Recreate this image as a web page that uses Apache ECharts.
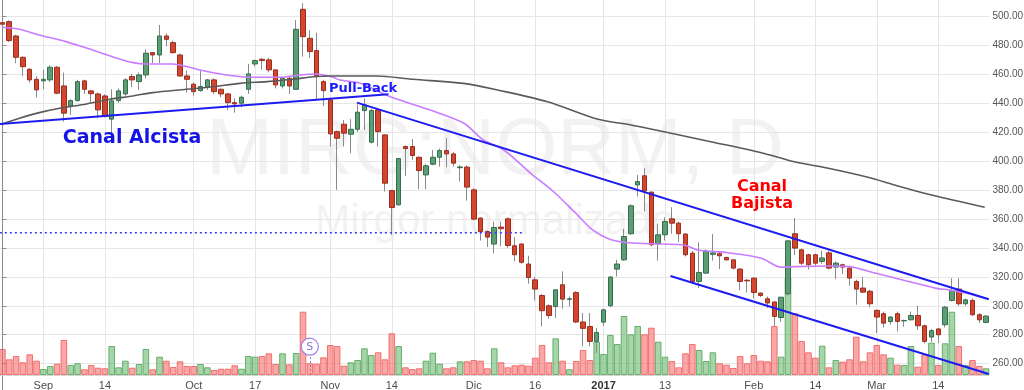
<!DOCTYPE html>
<html><head><meta charset="utf-8">
<script src="https://cdn.jsdelivr.net/npm/echarts@6/dist/echarts.min.js"></script>
<style>html,body{margin:0;padding:0;background:#fff}#c{width:1024px;height:390px}</style>
</head><body><div id="c"></div>
<script>
const dates = ['2016-08-24','2016-08-25','2016-08-26','2016-08-29','2016-08-30','2016-08-31',
'2016-09-01','2016-09-02','2016-09-05','2016-09-06','2016-09-07','2016-09-08','2016-09-09','2016-09-12','2016-09-13','2016-09-14','2016-09-15','2016-09-16','2016-09-19','2016-09-20','2016-09-21','2016-09-22','2016-09-23','2016-09-26','2016-09-27','2016-09-28','2016-09-29','2016-09-30',
'2016-10-03','2016-10-04','2016-10-05','2016-10-06','2016-10-07','2016-10-11','2016-10-12','2016-10-13','2016-10-14','2016-10-17','2016-10-18','2016-10-19','2016-10-20','2016-10-21','2016-10-24','2016-10-25','2016-10-26','2016-10-27','2016-10-28','2016-10-31',
'2016-11-01','2016-11-02','2016-11-03','2016-11-04','2016-11-07','2016-11-08','2016-11-09','2016-11-10','2016-11-11','2016-11-14','2016-11-15','2016-11-16','2016-11-17','2016-11-18','2016-11-21','2016-11-22','2016-11-23','2016-11-24','2016-11-25','2016-11-29','2016-11-30',
'2016-12-01','2016-12-02','2016-12-05','2016-12-06','2016-12-07','2016-12-12','2016-12-13','2016-12-14','2016-12-15','2016-12-16','2016-12-19','2016-12-20','2016-12-21','2016-12-22','2016-12-23','2016-12-26','2016-12-27','2016-12-28','2016-12-29',
'2017-01-02','2017-01-03','2017-01-04','2017-01-05','2017-01-06','2017-01-09','2017-01-10','2017-01-11','2017-01-12','2017-01-13','2017-01-16','2017-01-17','2017-01-18','2017-01-19','2017-01-20','2017-01-23','2017-01-24','2017-01-25','2017-01-26','2017-01-27','2017-01-30','2017-01-31',
'2017-02-01','2017-02-02','2017-02-03','2017-02-06','2017-02-07','2017-02-08','2017-02-09','2017-02-10','2017-02-13','2017-02-14','2017-02-15','2017-02-16','2017-02-17','2017-02-20','2017-02-21','2017-02-22','2017-02-23','2017-02-24',
'2017-03-01','2017-03-02','2017-03-03','2017-03-06','2017-03-07','2017-03-08','2017-03-09','2017-03-10','2017-03-13','2017-03-14','2017-03-15','2017-03-16','2017-03-17','2017-03-20','2017-03-21','2017-03-22','2017-03-23'];

const opens = [495.4,496.1,486.2,471.5,463.2,456.3,455.2,455.9,464.6,451.7,437.9,441.6,455.2,448.3,446.2,444.8,428.8,441.6,446.2,458.2,454.7,459.3,474.7,473.1,486.2,
481.6,473.1,458.6,452.9,448.5,450.8,455.9,449.4,446.2,440.2,439.8,449.4,466.9,470.1,469.7,462.8,451.7,457,449.4,504.6,484.6,476.1,454.7,
442.1,420.2,425.3,418.4,421.8,434.7,412.9,435.2,417.9,379.5,369.7,409.9,409.9,402.5,390.3,397.7,402.5,407.1,404.8,395.3,395.7,
380,360.5,351.2,342.6,354.3,360,341.4,342.6,328.8,317.9,307.1,300,299.5,314.5,304.4,309.1,288.8,285.7,275.4,
288.7,300,325.3,331.7,349.7,383.4,389.7,378.4,342.8,349,360,357,349.5,336.3,316.8,322.5,335.5,335.9,333.3,331.7,325.3,317.6,
319.1,308.8,304.8,302.6,291.9,308.3,349.7,338.6,335.2,335.2,330.6,336.5,326.7,328.3,326,316.8,312.2,310,
296.8,294.5,289.1,294.5,289.6,290.3,293.3,286.2,278.4,284,286.9,303.7,311.5,301.4,303.7,293.8,288.5];
const closes = [494.3,483.0,471.5,465,455.9,449,456.3,464.6,446.7,432.9,441.6,454.7,449.4,446.4,435.2,430.6,441.4,448.3,455.9,455.9,459.3,474.3,473.1,486.2,483.9,
474.7,458.6,456.3,447.8,451.3,455.9,447.8,446.2,440.2,439.3,443.9,460,469.2,469.2,462.8,452.4,457,451.7,490.8,485.7,475.4,458.6,448.5,
418.6,415.6,419.1,421.8,433.6,438.6,434.7,420.2,384.6,367.8,401.6,408.5,403.7,393.3,396.6,402.5,407.1,404.8,398.4,395.8,381.9,
359.8,351.2,347.4,354,353.2,341.6,335.2,330,319.5,311.5,296.6,293.3,311,304.6,304.8,288.8,284.4,275.4,281.6,
297.2,319.8,328.8,347.8,369,385.7,379.3,342.1,349,358.2,357,349.7,335.2,316.8,323,337.6,336.5,334.5,331.7,326,316.8,317.2,
309.2,307.1,301.9,292.6,305.9,344.8,339.8,329.4,328.3,329.4,333,326,329.4,326.7,319.1,311.5,309.4,301.4,
292.2,288,292.2,289.2,289.8,293.3,286.2,275.4,282.8,280,299,310.6,301.4,304.1,293.8,290.3,292.85];
const lows = [490.3,482,467.4,458.6,454,443.9,449.4,454.5,446,427.1,431.7,441,446.2,440.2,429.4,430,419.1,440,445,451,449,457,467.4,467.4,479,
474,458,447.1,445,447.8,449,446,444,435.2,433.3,437,446.2,465,463,461,450,450,446.2,449,471.9,471,442,437.9,
409.9,380,409.9,405.3,420,421.4,412,409.9,378.8,349,369,389.7,400.7,380.5,380.5,397,396,395.7,396,385.7,372.6,
359,345,340.5,336.3,341,340,330.6,329,315.2,303.7,285.7,291,291.5,298,299.5,288,272,272,267.4,
286,299,320.2,331,349,375.4,365,341,331.2,345,349.7,344,334,315,312.2,322,331.2,325.3,331,325,310.6,309.2,
305,306,298.4,285.7,289,307,335,328,325,327,329,325,318.4,322,314,300.7,308.8,299,
281.2,285,287,282.3,285.5,290,283.4,274,275,274.3,285,303,300,300,293,288,288];
const highs = [496.8,497,487,472,464,458.6,462.8,466,465.5,460.9,442.6,456,456,449,447,446,449.4,450,457,460,461,477,475,493.8,488,
483,474,462.3,454,462.8,456.5,457,450,447,443.2,445,466.9,470,471,471,463,458,458,497.2,508.8,490,488.5,456,
443,421,428.3,428.8,439,443.2,436,436.3,418.5,380,402,410.5,415,403,398,407.5,408.5,415.7,406,397,397,
381,361,352,358.2,358.2,361,347.4,343,334.5,320,308,301,311.5,323.7,306.5,310,295,295,284.6,
298,320.5,331.7,353,370,390.3,395,379,356.6,361,368,358,350,338,343.7,339,349.5,337.5,334,332,326,318.5,
319.5,309,306.4,303,306,345,360.5,339.5,336,336,338,338,330.6,329,327,318,319.8,311,
297.5,296,293,296,290.5,296,300,287,284,284.5,300,319,319,305,305,295,293.5];
const volumes = [26,15.7,19,12.7,20.7,14.3,6,9,11.3,35,10,11.7,5.7,10,7.3,6.7,29,7.7,14.3,7.3,11,26,5.7,18.3,14.3,
8,13.7,9,9,11,7.7,5,6.3,6.3,9.7,6.3,19,18.3,19,21.7,11,21.7,10.7,22,63.3,11.7,11.3,17.7,
30,29,9.3,12.7,15,26.7,20,22.7,15.7,41.7,29,7.7,6,6.7,14.3,22.3,11.3,6.7,7.7,13.7,13.7,
15,14.3,6.7,26.7,12.7,7.7,9.7,10.3,9.3,17.3,30,12.7,36.7,14.3,5.7,14,25,15,33.3,
21,40,31,59,40.7,49,40.7,47.3,33.3,18.3,14,7.7,21.7,31,25,14,22.7,11.7,10.3,7,19,11.7,
20,14.3,13.7,49,18.3,97.7,61.7,34,22.7,17.3,29.3,7.7,15,13.3,15.7,38.3,13.7,22.7,
30,20.7,17.3,10.3,10,29,8.3,20.7,32.3,10,31.7,63.3,29,10,15,9,6.7];

// moving averages: [bar position, value]
const maFast = [[0,492.2],[2.5,490.8],[5.4,486.9],[9.3,482.3],[13.2,476.5],[16.1,471.9],[19.1,467.8],[21.1,466.9],[24.9,466.9],[28.9,462.7],[32.8,459.3],[36.7,457.7],[40.6,457.7],[43.6,459.3],[46,460],[48.4,457.7],[49.4,455.8],[52.4,453.5],[56.8,444.3],[62.6,435.1],[67.5,426.1],[70.4,414.4],[73.4,407.5],[77.3,391.6],[80.7,378.7],[83.9,364],[86.4,352.3],[88.8,346.1],[91.7,343.5],[96.7,342.6],[99.8,341.9],[101.8,338.5],[106.2,336.6],[111.1,332.8],[114,326.6],[115.9,327],[121.3,327.4],[124,327],[127.9,322.4],[132.8,316.6],[136.7,312],[138.6,310.9],[141.1,308.6],[144,305]];
const maSlow = [[0,425.5],[2.5,429.4],[5.4,433.3],[8.4,436.3],[12.3,439.3],[15.7,442.5],[19.1,444.8],[22,447.1],[26.9,449.4],[30.8,451.2],[34.8,453.5],[38.7,454.7],[42.5,456.3],[45.5,458.1],[48.4,458.6],[54.8,458.6],[60.1,456.3],[67.5,453.5],[72.5,448.9],[79.8,440.8],[87.2,428.7],[92,424.8],[97.9,419],[103.7,413.2],[111.1,405.6],[115.9,399.4],[120.9,394.9],[126.7,388.7],[130.6,383.4],[136,376.4],[143.8,368]];

// drawn trend lines: [bar position, price]
const channelUp = [[-0.37,425.5],[56.5,446.0]];
const channelDownTop = [[51.9,440.2],[144.4,304.5]];
const channelDownBottom = [[97.8,320.5],[144.4,252.9]];
const supportDotted = [[-0.37,350.4],[76.3,350.4]];

const tickDates = ['2016-09-01','2016-09-14','2016-10-03','2016-10-17','2016-11-01','2016-11-14','2016-12-01','2016-12-16','2017-01-02','2017-01-13','2017-02-01','2017-02-14','2017-03-01','2017-03-14'];
const tickTexts = ['Sep','14','Oct','17','Nov','14','Dic','16','2017','13','Feb','14','Mar','14'];
const lastPrice = 292.85;
const splitDate = '2016-10-27';

const tickIdx = {};
tickDates.forEach((d, k) => { tickIdx[dates.indexOf(d)] = tickTexts[k]; });

const candleFull = dates.map((d, i) => [opens[i], closes[i], lows[i], highs[i]]);
const candleBody = dates.map((d, i) => [opens[i], closes[i], Math.min(opens[i], closes[i]), Math.max(opens[i], closes[i])]);
const volData = volumes.map((v, i) => ({
  value: v,
  itemStyle: closes[i] >= opens[i]
    ? {color: 'rgba(95,178,100,0.55)', borderColor: 'rgba(85,165,90,0.85)'}
    : {color: 'rgba(245,95,95,0.55)', borderColor: 'rgba(240,95,95,0.85)'}
}));

const gridLines = Object.keys(tickIdx).map(k => ({xAxis: Number(k), lineStyle: {color: '#e6e6e6', width: 1, type: 'solid'}}));
const sIdx = dates.indexOf(splitDate);

const blue = '#1c1cf0';
function trend(data, dotted) {
  return {type: 'line', xAxisIndex: 2, yAxisIndex: 0, data: data, symbol: 'none', silent: true, z: 6,
    lineStyle: {color: dotted ? '#3a3aff' : blue, width: dotted ? 1.6 : 2, type: dotted ? [2, 3] : 'solid'}};
}

const chart = echarts.init(document.getElementById('c'), null, {renderer: 'canvas'});
chart.setOption({
  animation: false,
  backgroundColor: '#ffffff',
  grid: [
    {left: -1, right: 34.5, top: -13, height: 405.7, outerBoundsMode: 'none', containLabel: false},
    {left: -1, right: 34.5, top: 0, bottom: 15, outerBoundsMode: 'none', containLabel: false}
  ],
  xAxis: [
    {type: 'category', gridIndex: 0, data: dates, show: false, boundaryGap: true},
    {type: 'category', gridIndex: 1, data: dates, boundaryGap: true,
      axisLine: {show: true, lineStyle: {color: '#d6d6d6'}},
      axisTick: {show: false}, splitLine: {show: false},
      axisLabel: {
        interval: (i) => tickIdx[i] !== undefined,
        formatter: (v, i) => (tickIdx[i] === '2017' ? '{b|2017}' : (tickIdx[i] || '')),
        color: '#4d4d4d', fontSize: 11, fontFamily: 'Liberation Sans, Arial, sans-serif', margin: 5,
        rich: {b: {fontWeight: 'bold', color: '#333', fontSize: 11, fontFamily: 'Liberation Sans, Arial, sans-serif'}}
      }},
    {type: 'value', gridIndex: 0, min: -0.5, max: dates.length - 0.5, show: false}
  ],
  yAxis: [
    {type: 'value', gridIndex: 0, position: 'right', min: 240, max: 520, interval: 20,
      axisLine: {show: true, lineStyle: {color: '#8a8a8a'}},
      axisTick: {show: true, length: 4, lineStyle: {color: '#8a8a8a'}},
      splitLine: {show: true, lineStyle: {color: '#e6e6e6'}},
      axisLabel: {showMinLabel: false, showMaxLabel: false, formatter: (v) => v.toFixed(2),
        color: '#555', fontSize: 10, fontFamily: 'Liberation Sans, Arial, sans-serif', margin: 3}},
    {type: 'value', gridIndex: 1, min: 0, max: 375, show: false}
  ],
  graphic: [
    {type: 'text', z: -5, x: 495, y: 152, silent: true,
      style: {text: 'MIRG:NORM, D', font: '80px "Liberation Sans", Arial, sans-serif', fill: '#f2f2f2', align: 'center', verticalAlign: 'middle', textAlign: 'center', textVerticalAlign: 'middle'}},
    {type: 'text', z: -5, x: 495, y: 222, silent: true,
      style: {text: 'Mirgor normalizado', font: '42px "Liberation Sans", Arial, sans-serif', fill: '#f2f2f2', align: 'center', verticalAlign: 'middle', textAlign: 'center', textVerticalAlign: 'middle'}},
    {type: 'text', z: 100, x: 132, y: 138, silent: true,
      style: {text: 'Canal Alcista', font: 'bold 19px "DejaVu Sans", sans-serif', fill: '#1414e6', align: 'center', verticalAlign: 'middle', textAlign: 'center', textVerticalAlign: 'middle'}},
    {type: 'text', z: 100, x: 363, y: 89, silent: true,
      style: {text: 'Pull-Back', font: 'bold 13px "DejaVu Sans", sans-serif', fill: '#1a1aff', align: 'center', verticalAlign: 'middle', textAlign: 'center', textVerticalAlign: 'middle'}},
    {type: 'text', z: 100, x: 762, y: 195, silent: true,
      style: {text: 'Canal\nBajista', font: 'bold 16px "DejaVu Sans", sans-serif', lineHeight: 17, fill: '#ff0000', align: 'center', verticalAlign: 'middle', textAlign: 'center', textVerticalAlign: 'middle'}}
  ],
  series: [
    {type: 'bar', name: 'Volumen', xAxisIndex: 1, yAxisIndex: 1, data: volData, barWidth: 6.6, z: 2, silent: true,
      itemStyle: {borderWidth: 1},
      markLine: {z: 1, silent: true, symbol: ['none', 'none'], label: {show: false},
        data: gridLines.concat([[
          {coord: [sIdx, 0], lineStyle: {color: '#8c7be0', width: 1, type: [2, 2]}},
          {coord: [sIdx, 20]}
        ]])},
      markPoint: {silent: true, z: 8, data: [{coord: [sIdx, 28.3], symbol: 'circle', symbolSize: 17,
        itemStyle: {color: '#ffffff', borderColor: '#9a82e6', borderWidth: 1.2},
        label: {show: true, formatter: 'S', color: '#8a6fd8', fontSize: 11, fontFamily: 'DejaVu Sans, sans-serif'}}]}},
    {type: 'candlestick', name: 'wick', xAxisIndex: 0, yAxisIndex: 0, data: candleFull, barWidth: 1, z: 3, silent: true,
      itemStyle: {color: '#8a8a8a', color0: '#8a8a8a', borderColor: '#8a8a8a', borderColor0: '#8a8a8a', borderWidth: 1}},
    {type: 'candlestick', name: 'MIRG', xAxisIndex: 0, yAxisIndex: 0, data: candleBody, barWidth: 5, z: 4, silent: true,
      itemStyle: {color: '#5c9d76', color0: '#d4452f', borderColor: '#336f4b', borderColor0: '#9a2e1f', borderWidth: 1},
      markLine: {silent: true, symbol: ['none', 'none'], lineStyle: {opacity: 0},
        data: [{yAxis: lastPrice}],
        label: {show: true, position: 'end', distance: 1, formatter: lastPrice.toFixed(2), color: '#ffffff',
          backgroundColor: '#5f9f74', padding: [2, 2, 1, 2], fontSize: 10, fontFamily: 'Liberation Sans, Arial, sans-serif'}}},
    {type: 'line', name: 'MA rápida', xAxisIndex: 2, yAxisIndex: 0, data: maFast, smooth: 0.3, symbol: 'none', z: 5, silent: true,
      lineStyle: {color: '#c97cff', width: 1.6}},
    {type: 'line', name: 'MA lenta', xAxisIndex: 2, yAxisIndex: 0, data: maSlow, smooth: 0.3, symbol: 'none', z: 5, silent: true,
      lineStyle: {color: '#5a5a5a', width: 1.6}},
    trend(channelUp, false),
    trend(channelDownTop, false),
    trend(channelDownBottom, false),
    trend(supportDotted, true)
  ]
});
</script>
</body></html>
